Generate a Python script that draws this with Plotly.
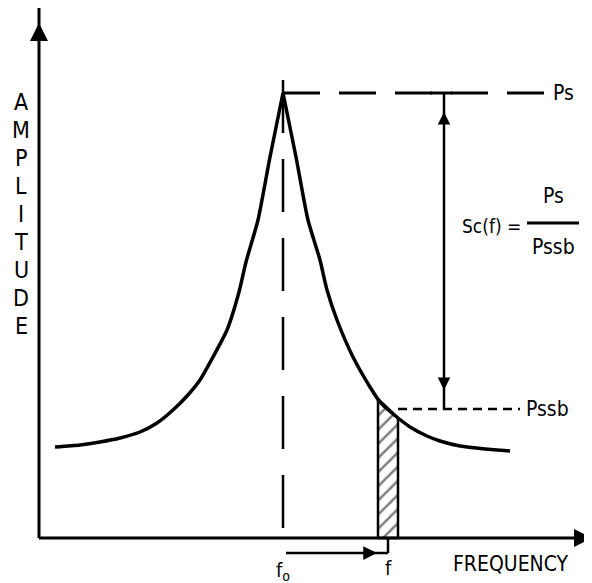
import numpy as np
import plotly.graph_objects as go

# ---- data (frequency / amplitude, arbitrary units; origin at the axes corner) ----
left_freq = [16, 41, 61, 81, 101, 118, 134, 148, 161, 174, 188, 200, 207, 219, 231, 244]
left_amp = [91, 93, 96, 100, 106, 115, 128, 142, 158, 181, 208, 246, 276, 318, 381, 445]
right_freq = [244, 257, 269, 281, 288, 298, 314, 331, 341, 353, 359, 371, 388, 401, 421, 446, 471]
right_amp = [445, 381, 318, 278, 248, 218, 181, 151, 136, 125, 120, 111, 102, 97, 92, 89, 87]

F0 = 244          # carrier frequency f0
F_OFF = 349       # offset frequency f
BAND = [339, 359] # measurement bandwidth around f
PS = 445          # carrier power level
PSSB = 129        # single sideband power level
X_END = 553
Y_END = 531

axis_letters = list("AMPLITUDE")

FONT = "Liberation Sans Narrow, Arial Narrow, DejaVu Sans Condensed, Liberation Sans, sans-serif"
K = "black"

fig = go.Figure()

# hatched measurement band
top_l = float(np.interp(BAND[0], right_freq, right_amp))
top_r = float(np.interp(BAND[1], right_freq, right_amp))
fig.add_trace(go.Scatter(
    x=[BAND[0], BAND[0], BAND[1], BAND[1], BAND[0]],
    y=[0, top_l, top_r, 0, 0],
    mode="lines", fill="toself", fillcolor="white",
    fillpattern=dict(shape="/", fgcolor=K, bgcolor="white", size=10, solidity=0.25),
    line=dict(color=K, width=2.5), hoverinfo="skip", showlegend=False))

# spectrum curve (two branches to keep the cusp at f0)
for fx, fy in [(left_freq, left_amp), (right_freq, right_amp)]:
    fig.add_trace(go.Scatter(x=fx, y=fy, mode="lines",
                             line=dict(color=K, width=3.5, shape="spline", smoothing=0.6),
                             hoverinfo="skip", showlegend=False))

def seg(x0, y0, x1, y1, w=3, dash=None):
    line = dict(color=K, width=w)
    if dash:
        line["dash"] = dash
    fig.add_shape(type="line", x0=x0, y0=y0, x1=x1, y1=y1, xref="x", yref="y", line=line)

# axes
seg(0, 0, 0, Y_END, 3)
seg(0, 0, X_END, 0, 3)
# dashed f0 marker
seg(F0, PS + 13, F0, -10, 2.5, "53px,26px")
# Ps level
seg(F0, PS, 505, PS, 3, "37px,19px")
seg(391, PS, 413, PS, 3)
# Pssb level
seg(BAND[1], PSSB, 481, PSSB, 2.5, "9px,6px")
# double arrow between Ps and Pssb
seg(405, PS, 405, PSSB - 1, 2.5)
# f0 -> f arrow
seg(F0 + 3, -15, F_OFF, -15, 2.5)
seg(F_OFF, -15, F_OFF, 0, 2.5)
# fraction bar
seg(488, 315, 540, 315, 3)

def head(x, y, ax, ay, w=3, s=1.2):
    fig.add_annotation(x=x, y=y, ax=ax, ay=ay, xref="x", yref="y", axref="x", ayref="y",
                       text="", showarrow=True, arrowhead=2, arrowsize=s, arrowwidth=w,
                       arrowcolor=K, standoff=0)

head(0, 515, 0, 499, 3, 1.2)
head(X_END, 0, X_END - 14, 0, 3, 1.2)
head(405, 426, 405, 414, 2.5, 1.0)
head(405, 148, 405, 160, 2.5, 1.0)
head(338, -15, 326, -15, 2.5, 1.1)

def label(x, y, t, size=20):
    fig.add_annotation(x=x, y=y, xref="x", yref="y", text=t, showarrow=False,
                       xanchor="center", yanchor="middle",
                       font=dict(family=FONT, size=size, color=K))

for i, ch in enumerate(axis_letters):
    label(-18, 436 - 28 * i, ch, 23)

label(472, -26, "FREQUENCY", 21)
label(F0, -33, "f<sub>o</sub>", 20)
label(F_OFF, -30, "f", 20)
label(524, PS, "Ps", 21)
label(508, PSSB, "Pssb", 21)
label(452, 312, "Sc(f) =", 19)
label(514, 342, "Ps", 21)
label(514, 291, "Pssb", 21)

# page body has an 8px margin: size the figure to fit the window and shift the ranges
fig.update_layout(
    width=584, height=575,
    margin=dict(l=0, r=0, t=0, b=0),
    paper_bgcolor="white", plot_bgcolor="white",
    xaxis=dict(range=[-31, 553], visible=False, fixedrange=True),
    yaxis=dict(range=[-45, 530], visible=False, fixedrange=True),
    showlegend=False,
)

fig.write_html("out.html")
